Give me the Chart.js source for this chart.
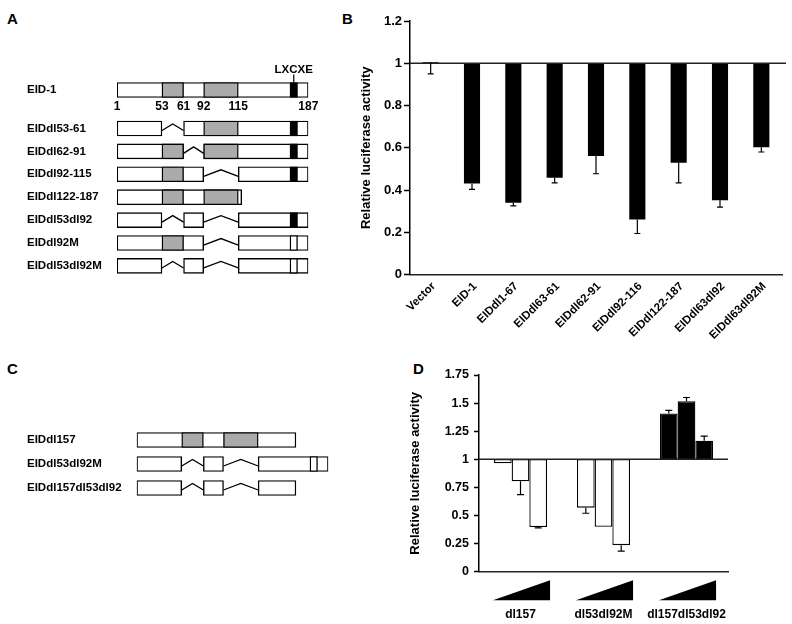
<!DOCTYPE html>
<html><head><meta charset="utf-8">
<script src="https://cdn.jsdelivr.net/npm/chart.js@4/dist/chart.umd.min.js"></script>
<style>
html,body{margin:0;padding:0;background:#fff;}
body{width:792px;height:624px;position:relative;overflow:hidden;font-family:"Liberation Sans",Arial,Helvetica,sans-serif;}
canvas{position:absolute;}
.letter{position:absolute;font:bold 15px "Liberation Sans",Arial,sans-serif;line-height:1;color:#000;}
</style></head><body>
<div class="letter" style="left:7px;top:11px">A</div>
<div class="letter" style="left:342px;top:11px">B</div>
<div class="letter" style="left:7px;top:361px">C</div>
<div class="letter" style="left:413px;top:361px">D</div>
<canvas id="a1" width="330" height="60" style="left:0;top:60px"></canvas>
<canvas id="a2" width="330" height="180" style="left:0;top:110px"></canvas>
<canvas id="cb" width="462" height="360" style="left:330px;top:0"></canvas>
<canvas id="cc" width="340" height="120" style="left:0;top:400px"></canvas>
<canvas id="cd" width="400" height="264" style="left:392px;top:360px"></canvas>
<script>
// ---------------- DATA ----------------
// Panel A / C : EID-1 constructs (residue numbers)
const eidName = 'EID-1';
const eidPieces = [[1, 187]];
const domainA = [53, 61];
const domainB = [92, 115];
const motifRange = [170, 177];
const motifLabel = 'LXCXE';
const residueLabels = [1, 53, 61, 92, 115, 187];

const aConstructs = ['EIDdl53-61', 'EIDdl62-91', 'EIDdl92-115', 'EIDdl122-187', 'EIDdl53dl92', 'EIDdl92M', 'EIDdl53dl92M'];
const aPieces = [
  [[1, 53], [61, 187]],
  [[1, 61], [92, 187]],
  [[1, 92], [115, 187]],
  [[1, 122]],
  [[1, 53], [61, 92], [115, 187]],
  [[1, 92], [115, 187]],
  [[1, 53], [61, 92], [115, 187]]
];
const aMotif = ['wt', 'wt', 'wt', 'none', 'wt', 'mut', 'mut'];

const cConstructs = ['EIDdl157', 'EIDdl53dl92M', 'EIDdl157dl53dl92'];
const cPieces = [
  [[1, 157]],
  [[1, 53], [61, 92], [115, 187]],
  [[1, 53], [61, 92], [115, 157]]
];
const cMotif = ['none', 'mut', 'none'];

// Panel B
const bCategories = ['Vector', 'EID-1', 'EIDdl1-67', 'EIDdl63-61', 'EIDdl62-91', 'EIDdl92-116', 'EIDdl122-187', 'EIDdl63dl92', 'EIDdl63dl92M'];
const bValues    = [1.005, 0.431, 0.340, 0.458, 0.561, 0.260, 0.529, 0.352, 0.602];
const bErrorEnds = [0.950, 0.403, 0.325, 0.434, 0.477, 0.194, 0.434, 0.319, 0.580];
const bBaseline = 1;
const bTitle = 'Relative luciferase activity';

// Panel D
const dCategories = ['dl157', 'dl53dl92M', 'dl157dl53dl92'];
const dDoseLow   = [0.965, 0.570, 1.407];
const dDoseMid   = [0.805, 0.400, 1.516];
const dDoseHigh  = [0.398, 0.236, 1.165];
const dErrLow    = [null, 0.520, 1.436];
const dErrMid    = [0.685, null, 1.550];
const dErrHigh   = [0.390, 0.183, 1.206];
const dBaseline = 1;
const dTitle = 'Relative luciferase activity';

// ---------------- STYLE / LAYOUT ----------------
const F = '"Liberation Sans", Arial, Helvetica, sans-serif';
const GRAY = '#ababab';
const D_FILL = ['#ffffff', '#ffffff', '#000000'];
// schematic (non-linear) drawing scale of the protein map
const SCHEM = { aa: [1, 53, 61, 92, 115, 122, 157, 187], pos: [0, 23.5, 34.8, 45.3, 63.4, 65.2, 83.1, 100] };
function schem(aa) {
  const a = SCHEM.aa, p = SCHEM.pos;
  for (let i = 0; i < a.length - 1; i++) {
    if (aa <= a[i + 1]) return p[i] + (aa - a[i]) * (p[i + 1] - p[i]) / (a[i + 1] - a[i]);
  }
  return 100;
}
const fmt = v => String(Number(Number(v).toFixed(2)));

Chart.defaults.font.family = F;
Chart.defaults.color = '#000';

// ---------------- DIAGRAMS (A, C) ----------------
function diagramDatasets(pieces, motif) {
  const common = { borderColor: '#000', borderWidth: 1.4, borderSkipped: false, grouped: false,
                   barThickness: 15, categoryPercentage: 1, barPercentage: 1 };
  const ds = [];
  for (let k = 0; k < 3; k++) {
    ds.push(Object.assign({ data: pieces.map(p => p[k] ? p[k].map(schem) : null), backgroundColor: '#fff', order: 3 }, common));
  }
  [domainA, domainB].forEach(d => {
    ds.push(Object.assign({ data: pieces.map(p => p.some(q => q[0] <= d[0] && q[1] >= d[1]) ? d.map(schem) : null),
      backgroundColor: GRAY, order: 2 }, common));
  });
  ds.push(Object.assign({ data: motif.map(m => m === 'none' ? null : motifRange.map(schem)),
    backgroundColor: motif.map(m => m === 'wt' ? '#000' : '#fff'), order: 1 }, common));
  return ds;
}
function connectorPlugin(pieces) {
  return { id: 'connectors', afterDatasetsDraw(chart) {
    const ctx = chart.ctx, xs = chart.scales.x, ys = chart.scales.y;
    ctx.save(); ctx.strokeStyle = '#000'; ctx.lineWidth = 1.3; ctx.lineJoin = 'miter';
    pieces.forEach((p, i) => {
      const yc = ys.getPixelForValue(i);
      for (let k = 0; k < p.length - 1; k++) {
        const x1 = xs.getPixelForValue(schem(p[k][1])), x2 = xs.getPixelForValue(schem(p[k + 1][0]));
        ctx.beginPath(); ctx.moveTo(x1, yc + 2); ctx.lineTo((x1 + x2) / 2, yc - 4.5); ctx.lineTo(x2, yc + 2); ctx.stroke();
      }
    });
    ctx.restore();
  } };
}
function diagramChart(id, names, pieces, motif, pad, yWidth, extraPlugins) {
  return new Chart(document.getElementById(id), {
    type: 'bar',
    data: { labels: names, datasets: diagramDatasets(pieces, motif) },
    options: {
      indexAxis: 'y', responsive: false, animation: false, devicePixelRatio: 1,
      layout: { padding: pad },
      plugins: { legend: { display: false }, tooltip: { enabled: false } },
      scales: {
        x: { type: 'linear', display: false, min: 0, max: 100 },
        y: { grid: { display: false }, border: { display: false },
             ticks: { crossAlign: 'far', autoSkip: false, color: '#000', padding: 0,
                      font: { family: F, size: 11.5, weight: 'bold' } },
             afterFit: s => { s.width = yWidth; } }
      }
    },
    plugins: [connectorPlugin(pieces)].concat(extraPlugins || [])
  });
}
const eidLabelsPlugin = { id: 'eidLabels', afterDatasetsDraw(chart) {
  const ctx = chart.ctx, xs = chart.scales.x, ys = chart.scales.y;
  const yc = ys.getPixelForValue(0);
  ctx.save(); ctx.fillStyle = '#000'; ctx.strokeStyle = '#000';
  ctx.font = 'bold 12px ' + F; ctx.textAlign = 'center'; ctx.textBaseline = 'middle';
  residueLabels.forEach(r => ctx.fillText(String(r), xs.getPixelForValue(schem(r)), yc + 17));
  const mx = xs.getPixelForValue(schem((motifRange[0] + motifRange[1]) / 2));
  ctx.font = 'bold 11.5px ' + F;
  ctx.fillText(motifLabel, mx, yc - 20.5);
  ctx.lineWidth = 1.2; ctx.beginPath(); ctx.moveTo(mx, yc - 15.5); ctx.lineTo(mx, yc - 7.5); ctx.stroke();
  ctx.restore();
} };

diagramChart('a1', [eidName], [eidPieces], ['wt'], { left: 27, right: 21.7, top: 10, bottom: 10 }, 90, [eidLabelsPlugin]);
diagramChart('a2', aConstructs, aPieces, aMotif, { left: 27, right: 21.7, top: 7, bottom: 12.6 }, 90);
diagramChart('cc', cConstructs, cPieces, cMotif, { left: 27, right: 11.7, top: 28, bottom: 20 }, 109.7);

// ---------------- BAR CHART HELPERS ----------------
function baselinePlugin(value, extend) {
  return { id: 'baseline', afterDatasetsDraw(chart) {
    const ctx = chart.ctx, ys = chart.scales.y, a = chart.chartArea;
    const y = ys.getPixelForValue(value);
    ctx.save(); ctx.strokeStyle = '#222'; ctx.lineWidth = 1.4;
    ctx.beginPath(); ctx.moveTo(a.left, y); ctx.lineTo(a.right + extend, y); ctx.stroke(); ctx.restore();
  } };
}
function errorPlugin(endsPerDataset, capW) {
  return { id: 'errbars', afterDatasetsDraw(chart) {
    const ctx = chart.ctx, ys = chart.scales.y;
    ctx.save(); ctx.strokeStyle = '#000'; ctx.lineWidth = 1.2;
    endsPerDataset.forEach((ends, di) => {
      const meta = chart.getDatasetMeta(di);
      ends.forEach((e, i) => {
        if (e == null) return;
        const el = meta.data[i]; const v = chart.data.datasets[di].data[i][0];
        const y0 = ys.getPixelForValue(v), y1 = ys.getPixelForValue(e);
        ctx.beginPath(); ctx.moveTo(el.x, y0); ctx.lineTo(el.x, y1);
        ctx.moveTo(el.x - capW / 2, y1); ctx.lineTo(el.x + capW / 2, y1); ctx.stroke();
      });
    });
    ctx.restore();
  } };
}

// ---------------- PANEL B ----------------
new Chart(document.getElementById('cb'), {
  type: 'bar',
  data: { labels: bCategories, datasets: [{ data: bValues.map(v => [v, bBaseline]), backgroundColor: '#000',
          borderWidth: 0, barPercentage: 0.39, categoryPercentage: 1 }] },
  options: {
    responsive: false, animation: false, devicePixelRatio: 1,
    layout: { padding: { left: 0, right: 10, top: 21, bottom: 0 } },
    plugins: { legend: { display: false }, tooltip: { enabled: false } },
    scales: {
      x: { grid: { display: true, drawOnChartArea: false, drawTicks: false },
           border: { display: true, color: '#222', width: 1.5 },
           ticks: { autoSkip: false, minRotation: 45, maxRotation: 45, padding: 5, labelOffset: 3, color: '#000',
                    font: { family: F, size: 11.5, weight: 'bold' } },
           afterFit: s => { s.height = 85.5; } },
      y: { min: 0, max: 1.2,
           ticks: { stepSize: 0.2, padding: 2, color: '#000', callback: fmt,
                    font: { family: F, size: 13, weight: 'bold' } },
           grid: { drawOnChartArea: false, tickLength: 6, tickColor: '#000', tickWidth: 1.5 },
           border: { display: true, color: '#000', width: 1.5 },
           title: { display: true, text: bTitle, color: '#000', padding: { top: 29, bottom: 0 },
                    font: { family: F, size: 13, weight: 'bold' } },
           afterFit: s => { s.width = 80; } }
    }
  },
  plugins: [baselinePlugin(bBaseline, 4), errorPlugin([bErrorEnds], 6)]
});

// ---------------- PANEL D ----------------
const wedgePlugin = { id: 'wedges', afterDraw(chart) {
  const ctx = chart.ctx, xs = chart.scales.x;
  const first = chart.getDatasetMeta(0), last = chart.getDatasetMeta(chart.data.datasets.length - 1);
  const yb = xs.top + 28.5, yt = yb - 20;
  ctx.save(); ctx.fillStyle = '#000';
  dCategories.forEach((c, i) => {
    const l = first.data[i].x - first.data[i].width / 2 - 1, r = last.data[i].x + last.data[i].width / 2 + 3;
    ctx.beginPath(); ctx.moveTo(l, yb); ctx.lineTo(r, yb); ctx.lineTo(r, yt); ctx.closePath(); ctx.fill();
  });
  ctx.restore();
} };
const dSeries = [dDoseLow, dDoseMid, dDoseHigh];
new Chart(document.getElementById('cd'), {
  type: 'bar',
  data: { labels: dCategories, datasets: dSeries.map(s => ({
      data: s.map(v => [v, dBaseline]), backgroundColor: D_FILL, borderColor: '#000', borderWidth: 1.3,
      borderSkipped: false, categoryPercentage: 0.64, barPercentage: 1 })) },
  options: {
    responsive: false, animation: false, devicePixelRatio: 1,
    layout: { padding: { left: 0, right: 64, top: 15, bottom: 0 } },
    plugins: { legend: { display: false }, tooltip: { enabled: false } },
    scales: {
      x: { grid: { display: true, drawOnChartArea: false, drawTicks: false },
           border: { display: true, color: '#222', width: 1.5 },
           ticks: { padding: 36, color: '#000', minRotation: 0, maxRotation: 0, autoSkip: false,
                    font: { family: F, size: 12, weight: 'bold' } },
           afterFit: s => { s.height = 52.3; } },
      y: { min: 0, max: 1.75,
           ticks: { stepSize: 0.25, padding: 5, color: '#000', callback: fmt,
                    font: { family: F, size: 12.5, weight: 'bold' } },
           grid: { drawOnChartArea: false, tickLength: 5, tickColor: '#000', tickWidth: 1.5 },
           border: { display: true, color: '#000', width: 1.5 },
           title: { display: true, text: dTitle, color: '#000', padding: { top: 16, bottom: 0 },
                    font: { family: F, size: 13, weight: 'bold' } },
           afterFit: s => { s.width = 87; } }
    }
  },
  plugins: [baselinePlugin(dBaseline, 0), errorPlugin([dErrLow, dErrMid, dErrHigh], 7), wedgePlugin]
});
</script>
</body></html>
